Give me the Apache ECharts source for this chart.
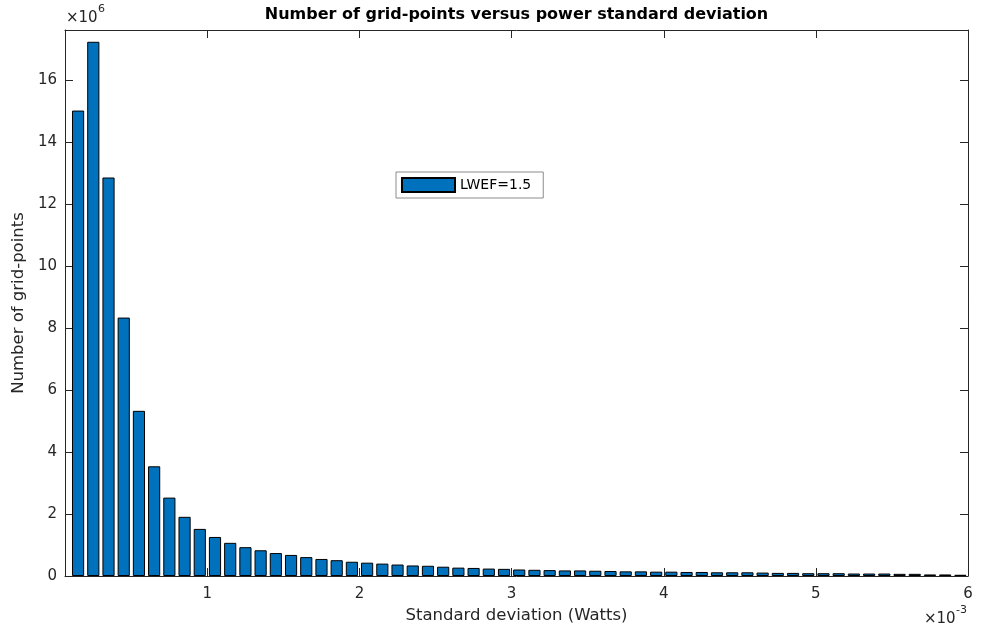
<!DOCTYPE html>
<html>
<head>
<meta charset="utf-8">
<title>Number of grid-points versus power standard deviation</title>
<script src="https://cdn.jsdelivr.net/npm/echarts@6/dist/echarts.min.js"></script>
<style>
  html, body { margin: 0; padding: 0; background: #ffffff; }
  #chart { width: 981px; height: 629px; }
</style>
</head>
<body>
<div id="chart"></div>
<script>
// Bin centres of the standard deviation histogram (units of 1e-3 W)
const binCenters = [
  0.15, 0.25, 0.35, 0.45, 0.55, 0.65, 0.75, 0.85, 0.95, 1.05,
  1.15, 1.25, 1.35, 1.45, 1.55, 1.65, 1.75, 1.85, 1.95, 2.05,
  2.15, 2.25, 2.35, 2.45, 2.55, 2.65, 2.75, 2.85, 2.95, 3.05,
  3.15, 3.25, 3.35, 3.45, 3.55, 3.65, 3.75, 3.85, 3.95, 4.05,
  4.15, 4.25, 4.35, 4.45, 4.55, 4.65, 4.75, 4.85, 4.95, 5.05,
  5.15, 5.25, 5.35, 5.45, 5.55, 5.65, 5.75, 5.85, 5.95
];

// Number of grid-points in each bin (units of 1e6)
const gridPointsMillions = [
  15.02, 17.24, 12.86, 8.34, 5.33, 3.54, 2.53, 1.91, 1.52, 1.26,
  1.07, 0.93, 0.83, 0.74, 0.68, 0.61, 0.55, 0.51, 0.46, 0.43,
  0.40, 0.37, 0.34, 0.33, 0.30, 0.27, 0.26, 0.24, 0.23, 0.21,
  0.20, 0.19, 0.18, 0.18, 0.17, 0.16, 0.15, 0.15, 0.14, 0.14,
  0.13, 0.13, 0.12, 0.12, 0.12, 0.11, 0.10, 0.10, 0.09, 0.09,
  0.09, 0.08, 0.08, 0.08, 0.07, 0.07, 0.05, 0.05, 0.04
];

const seriesName = 'LWEF=1.5';
const chartTitle = 'Number of grid-points versus power standard deviation';
const xTitle = 'Standard deviation (Watts)';
const yTitle = 'Number of grid-points';
const xTickValues = [1, 2, 3, 4, 5, 6];
const yTickValues = [0, 2, 4, 6, 8, 10, 12, 14, 16];

const FONT = 'DejaVu Sans';
const INK = '#262626';
const X_MIN = 0.064, X_MAX = 6;
const Y_MIN = 0, Y_MAX = 17.62;

const chart = echarts.init(document.getElementById('chart'), null, { renderer: 'canvas' });

const data = binCenters.map((x, i) => [x, gridPointsMillions[i]]);

const xLabelFmt = v => (xTickValues.some(t => Math.abs(t - v) < 1e-9) ? String(Math.round(v)) : '');
const yLabelFmt = v => (yTickValues.some(t => Math.abs(t - v) < 1e-9) ? String(Math.round(v)) : '');

const tickStyle = { show: true, inside: true, length: 8, lineStyle: { color: INK, width: 1 } };
const lineStyle = { show: true, onZero: false, lineStyle: { color: INK, width: 1 } };

const option = {
  animation: false,
  backgroundColor: '#ffffff',
  grid: { left: 65, right: 13, top: 30, bottom: 52, containLabel: false },
  legend: {
    data: [seriesName],
    left: 396,
    top: 172,
    orient: 'horizontal',
    icon: 'rect',
    itemWidth: 53,
    itemHeight: 14,
    padding: [5, 12, 5, 5],
    borderColor: '#8c8c8c',
    borderWidth: 1,
    backgroundColor: '#ffffff',
    textStyle: { fontFamily: FONT, fontSize: 14, color: '#000000', lineHeight: 14 }
  },
  xAxis: [
    {
      type: 'value',
      position: 'bottom',
      min: X_MIN,
      max: X_MAX,
      splitNumber: 6,
      axisLine: lineStyle,
      axisTick: tickStyle,
      splitLine: { show: false },
      axisLabel: { color: INK, fontFamily: FONT, fontSize: 15, margin: 11, formatter: xLabelFmt },
      name: xTitle,
      nameLocation: 'middle',
      nameGap: 31,
      nameTextStyle: { color: INK, fontFamily: FONT, fontSize: 16.5 }
    },
    {
      type: 'value',
      position: 'top',
      min: X_MIN,
      max: X_MAX,
      splitNumber: 6,
      axisLine: lineStyle,
      axisTick: tickStyle,
      splitLine: { show: false },
      axisLabel: { show: false }
    }
  ],
  yAxis: [
    {
      type: 'value',
      position: 'left',
      min: Y_MIN,
      max: Y_MAX,
      interval: 2,
      axisLine: lineStyle,
      axisTick: tickStyle,
      splitLine: { show: false },
      axisLabel: { color: INK, fontFamily: FONT, fontSize: 15, margin: 8, formatter: yLabelFmt },
      name: yTitle,
      nameLocation: 'middle',
      nameGap: 34,
      nameRotate: 90,
      nameTextStyle: { color: INK, fontFamily: FONT, fontSize: 16.5 }
    },
    {
      type: 'value',
      position: 'right',
      min: Y_MIN,
      max: Y_MAX,
      interval: 2,
      axisLine: lineStyle,
      axisTick: tickStyle,
      splitLine: { show: false },
      axisLabel: { show: false }
    }
  ],
  series: [
    {
      name: seriesName,
      type: 'bar',
      xAxisIndex: 0,
      yAxisIndex: 0,
      data: data,
      barWidth: '80%',
      itemStyle: { color: '#0072BD', borderColor: '#000000', borderWidth: 1 },
      emphasis: { disabled: true }
    }
  ],
  graphic: [
    {
      type: 'text',
      x: 516.5,
      y: 7,
      style: { text: chartTitle, fill: '#000000', font: 'bold 16px "DejaVu Sans"', textAlign: 'center', textVerticalAlign: 'top' }
    },
    {
      type: 'text',
      x: 66,
      y: 11,
      style: { text: '×10', fill: INK, font: '15px "DejaVu Sans"', textAlign: 'left', textVerticalAlign: 'top' }
    },
    {
      type: 'text',
      x: 98,
      y: 4,
      style: { text: '6', fill: INK, font: '11px "DejaVu Sans"', textAlign: 'left', textVerticalAlign: 'top' }
    },
    {
      type: 'text',
      x: 924,
      y: 612,
      style: { text: '×10', fill: INK, font: '15px "DejaVu Sans"', textAlign: 'left', textVerticalAlign: 'top' }
    },
    {
      type: 'text',
      x: 956,
      y: 605,
      style: { text: '-3', fill: INK, font: '11px "DejaVu Sans"', textAlign: 'left', textVerticalAlign: 'top' }
    }
  ]
};

chart.setOption(option);
</script>
</body>
</html>
